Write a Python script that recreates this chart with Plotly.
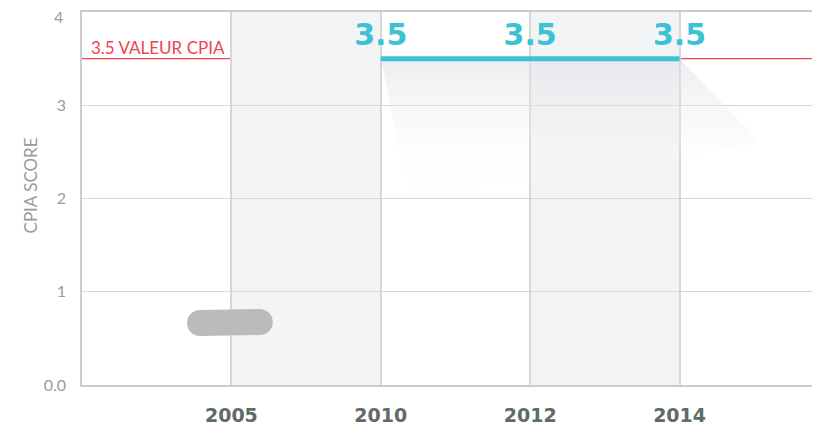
import plotly.graph_objects as go

# ---- data ----
years = ["2005", "2010", "2012", "2014"]
year_pos = [1, 2, 3, 4]
cpia_years_pos = [2, 3, 4]          # positions of 2010, 2012, 2014
cpia_values = [3.5, 3.5, 3.5]
cpia_labels = ["3.5", "3.5", "3.5"]
reference_value = 3.5
reference_label = "3.5 VALEUR CPIA"
nodata_year_pos = 1                 # 2005: no score (grey placeholder)
nodata_level = 0.665
y_ticks = [0, 1, 2, 3, 4]
y_ticktext = ["0.0", "1", "2", "3", "4"]
y_title = "CPIA SCORE"

CYAN = "#3bc3d5"
RED = "#f0434b"
GRID = "#d6d6d6"
BAND = "#f3f4f6"
TICKGREY = "#9a9a9a"

fig = go.Figure()

# shadow under the CPIA line
x0, x1 = cpia_years_pos[0], cpia_years_pos[-1]
v = cpia_values[0]
fig.add_trace(go.Scatter(
    x=[x0, x1, x1 + 0.54, x0 + 0.2, x0],
    y=[v, v, v - 0.9, v - 1.55, v],
    mode="lines", line=dict(width=0), fill="toself",
    fillgradient=dict(type="vertical",
                      colorscale=[[0, "rgba(255,255,255,0)"], [1, "rgba(222,223,227,0.55)"]]),
    hoverinfo="skip", showlegend=False))

# grey placeholder for 2005
fig.add_trace(go.Scatter(
    x=[nodata_year_pos - 0.21, nodata_year_pos + 0.19],
    y=[nodata_level, nodata_level + 0.01],
    mode="lines+markers",
    line=dict(color="#bbbbbb", width=26),
    marker=dict(color="#bbbbbb", size=26, symbol="circle"),
    hoverinfo="skip", showlegend=False))

# CPIA line with labels
fig.add_trace(go.Scatter(
    x=cpia_years_pos, y=cpia_values, mode="lines+markers+text",
    line=dict(color=CYAN, width=5),
    marker=dict(size=8, color="rgba(0,0,0,0)"),
    text=cpia_labels, textposition="top center",
    textfont=dict(family="DejaVu Sans", size=30, color=CYAN, weight="bold"),
    showlegend=False))

# alternate shaded bands
shapes = []
for a, b in [(year_pos[0], year_pos[1]), (year_pos[2], year_pos[3])]:
    shapes.append(dict(type="rect", xref="x", yref="y", x0=a, x1=b, y0=0, y1=4,
                       fillcolor=BAND, line=dict(width=0), layer="below"))
# reference line
shapes.append(dict(type="line", xref="paper", yref="y", x0=0, x1=1,
                   y0=reference_value, y1=reference_value,
                   line=dict(color=RED, width=1.3), layer="between"))
fig.update_layout(shapes=shapes)

fig.add_annotation(xref="paper", yref="y", x=0.009, y=reference_value,
                   text=reference_label, showarrow=False,
                   xanchor="left", yanchor="bottom", yshift=-1,
                   font=dict(family="Lato", size=17, color=RED))

# y-axis title
fig.add_annotation(xref="paper", yref="y", x=0, y=2.14, xshift=-52,
                   text=y_title, textangle=-90, showarrow=False,
                   xanchor="center", yanchor="middle",
                   font=dict(family="Lato", size=17, color=TICKGREY))

# top tick label is nudged down so it stays inside the figure
axis_ticktext = y_ticktext[:-1] + [""]
fig.add_annotation(xref="paper", yref="y", x=0, y=y_ticks[-1], xshift=-17, yshift=-4,
                   text=y_ticktext[-1], showarrow=False,
                   xanchor="right", yanchor="middle",
                   font=dict(family="Lato", size=16, color=TICKGREY))

# page body has an 8px margin: figure is sized to fill the rest of the window
fig.update_layout(
    width=812, height=417,
    margin=dict(l=74, r=0, t=4, b=40),
    paper_bgcolor="white", plot_bgcolor="white",
    xaxis=dict(range=[0, 4.94], tickvals=year_pos, ticktext=years,
               showgrid=True, gridcolor=GRID, gridwidth=1.5,
               showline=True, linecolor="#cccccc", linewidth=2, mirror=True,
               zeroline=False, ticks="", ticklabelstandoff=12, automargin=False,
               tickfont=dict(family="DejaVu Sans", size=19, color="#5f6b66", weight="bold")),
    yaxis=dict(range=[0, 4], tickvals=y_ticks, ticktext=axis_ticktext,
               showgrid=True, gridcolor=GRID, gridwidth=1.2,
               showline=True, linecolor="#cccccc", linewidth=1.5,
               zeroline=False, ticks="", ticklabelstandoff=11, automargin=False,
               tickfont=dict(family="Lato", size=16, color=TICKGREY)),
)

fig.write_html("out.html")
